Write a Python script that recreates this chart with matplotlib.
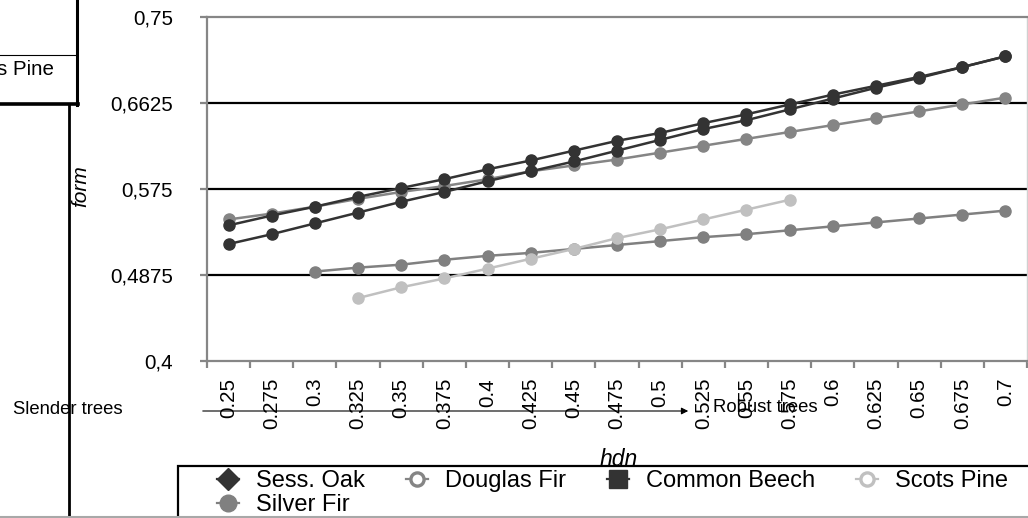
import matplotlib
matplotlib.use('Agg')
import matplotlib.pyplot as plt
import numpy as np
from matplotlib.lines import Line2D
from matplotlib.patches import Rectangle, FancyArrowPatch

plt.rcParams['font.family'] = ['Liberation Sans', 'DejaVu Sans']

# ---------------- data ----------------
hdn_labels = ['0.25', '0.275', '0.3', '0.325', '0.35', '0.375', '0.4', '0.425', '0.45',
              '0.475', '0.5', '0.525', '0.55', '0.575', '0.6', '0.625', '0.65', '0.675', '0.7']
nan = np.nan
sess_oak = [0.538, 0.548, 0.557, 0.567, 0.576, 0.585, 0.595, 0.604, 0.614, 0.624,
            0.632, 0.642, 0.651, 0.661, 0.671, 0.680, 0.689, 0.699, 0.710]
common_beech = [0.519, 0.529, 0.540, 0.551, 0.562, 0.572, 0.583, 0.593, 0.603, 0.614,
                0.625, 0.636, 0.645, 0.656, 0.667, 0.678, 0.688, 0.699, 0.710]
douglas_fir = [0.544, 0.550, 0.557, 0.565, 0.572, 0.578, 0.585, 0.593, 0.599, 0.605,
               0.612, 0.619, 0.626, 0.633, 0.640, 0.647, 0.654, 0.661, 0.668]
silver_fir = [nan, nan, 0.491, 0.495, 0.498, 0.503, 0.507, 0.510, 0.514, 0.518,
              0.522, 0.526, 0.529, 0.533, 0.537, 0.541, 0.545, 0.549, 0.553]
scots_pine = [nan, nan, nan, 0.464, 0.475, 0.484, 0.494, 0.504, 0.514, 0.525,
              0.534, 0.544, 0.554, 0.564, nan, nan, nan, nan, nan]
y_ticks = [0.4, 0.4875, 0.575, 0.6625, 0.75]
y_tick_labels = ['0,4', '0,4875', '0,575', '0,6625', '0,75']
series_names = ['Sess. Oak', 'Douglas Fir', 'Common Beech', 'Scots Pine', 'Silver Fir']

# ---------------- figure ----------------
W, H = 1028, 518
fig = plt.figure(figsize=(W / 100, H / 100), dpi=100)
fig.patch.set_facecolor('white')

def fx(x):
    return x / W

def fy(y):
    return 1 - y / H

ax = fig.add_axes([fx(207), fy(361), 820 / W, 344 / H])
x = np.arange(len(hdn_labels))

DARK = '#333333'
GREY = '#858585'
GREY2 = '#808080'
LIGHT = '#c0c0c0'

# gridlines
for yv in y_ticks[1:4]:
    ax.axhline(yv, color='black', lw=1.6, zorder=1)

lw = 1.8
ms = 8.0
ax.plot(x, douglas_fir, color=GREY, lw=lw, marker='o', ms=ms, zorder=3)
ax.plot(x, silver_fir, color=GREY2, lw=lw, marker='o', ms=ms, zorder=3)
ax.plot(x, scots_pine, color=LIGHT, lw=lw, marker='o', ms=ms, zorder=3)
ax.plot(x, common_beech, color=DARK, lw=lw, marker='o', ms=ms, zorder=4)
ax.plot(x, sess_oak, color=DARK, lw=lw, marker='o', ms=ms, zorder=4)

ax.set_xlim(-0.5, len(hdn_labels) - 0.5)
ax.set_ylim(0.4, 0.75)

for s in ['left', 'bottom', 'top']:
    ax.spines[s].set_color('#868686')
    ax.spines[s].set_linewidth(1.6)
ax.spines['right'].set_color('#d0d0d0')
ax.spines['right'].set_linewidth(1.0)

ax.set_yticks(y_ticks)
ax.set_yticklabels(y_tick_labels, fontsize=14.8)
ax.tick_params(axis='y', direction='out', length=5, width=1.6, color='#868686', pad=19.4)

ax.set_xticks(np.arange(-0.5, len(hdn_labels), 1.0))
ax.set_xticklabels([])
ax.set_xticks(x, minor=True)
ax.set_xticklabels(hdn_labels, minor=True, rotation=90, fontsize=14.8)
ax.tick_params(axis='x', which='major', direction='out', length=5, width=1.6, color='#868686')
ax.tick_params(axis='x', which='minor', length=0, pad=12.2)

# axis titles
fig.text(fx(81), fy(186), 'form', rotation=90, style='italic', fontsize=15,
         ha='center', va='center')
fig.text(fx(619), fy(466), 'hdn', style='italic', fontsize=16.5,
         ha='center', va='baseline', zorder=2)

# slender / robust annotation
fig.text(fx(13), fy(409), 'Slender trees', fontsize=13.3, ha='left', va='center')
fig.text(fx(713), fy(408), 'Robust trees', fontsize=13.3, ha='left', va='center', zorder=6)
fig.add_artist(FancyArrowPatch((fx(200), fy(411)), (fx(691), fy(411)),
                               transform=fig.transFigure,
                               arrowstyle='-|>,head_length=4,head_width=2',
                               mutation_scale=1, lw=0.8, color='black'))

# stray legend fragment at top-left
fig.text(fx(53.5), fy(75), 'Scots Pine', fontsize=14.8, ha='right', va='baseline')
fig.add_artist(Line2D([fx(0), fx(76)], [fy(54.5), fy(54.5)], transform=fig.transFigure,
                      color='black', lw=0.8))
fig.add_artist(Line2D([fx(0), fx(78)], [fy(103.5), fy(103.5)], transform=fig.transFigure,
                      color='black', lw=2.6))
fig.add_artist(Line2D([fx(76.5), fx(76.5)], [fy(0), fy(105)], transform=fig.transFigure,
                      color='black', lw=2.2))
fig.add_artist(Line2D([fx(69), fx(69)], [fy(104), fy(518)], transform=fig.transFigure,
                      color='black', lw=2.0, zorder=6))

# bottom grey border
fig.add_artist(Line2D([fx(0), fx(1028)], [fy(516.7), fy(516.7)], transform=fig.transFigure,
                      color='#a8a8a8', lw=1.5, zorder=7))

# legend box
fig.add_artist(Rectangle((fx(178), fy(540)), (1100 - 178) / W, (540 - 465.5) / H,
                         transform=fig.transFigure, facecolor='white', edgecolor='black',
                         lw=1.6, zorder=4))

h_oak = Line2D([], [], color=DARK, lw=1.6, marker='D', ms=11.7, mfc=DARK, mec=DARK)
h_doug = Line2D([], [], color=GREY, lw=1.6, marker='o', ms=9.5, mfc='white', mec=GREY, mew=2.4)
h_beech = Line2D([], [], color=DARK, lw=1.6, marker='s', ms=13, mfc=DARK, mec=DARK)
h_scots = Line2D([], [], color=LIGHT, lw=1.6, marker='o', ms=9.5, mfc='white', mec=LIGHT, mew=2.4)
h_silver = Line2D([], [], color=GREY2, lw=1.6, marker='o', ms=12, mfc=GREY2, mec=GREY2)

handles = [h_oak, h_silver, h_doug, h_beech, h_scots]
labels = [series_names[0], series_names[4], series_names[1], series_names[2], series_names[3]]
fig.legend(handles, labels, loc='upper left', bbox_to_anchor=(fx(217), fy(470)),
           bbox_transform=fig.transFigure, ncol=4, frameon=False, fontsize=17,
           handlelength=0.93, handletextpad=0.72, columnspacing=1.74,
           labelspacing=0.1, borderpad=0, borderaxespad=0)

fig.savefig('out.png', dpi=100)
